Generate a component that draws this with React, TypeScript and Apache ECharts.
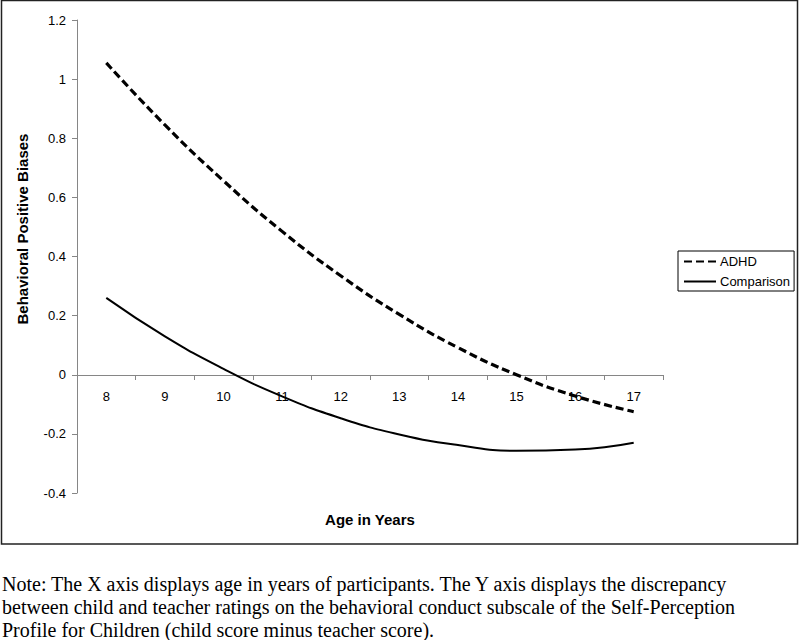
import React, { useEffect, useRef } from "react";
import * as echarts from "echarts";

const ages = ["8", "9", "10", "11", "12", "13", "14", "15", "16", "17"];
const adhd = [1.055, 0.845, 0.656, 0.485, 0.335, 0.204, 0.092, 0.0, -0.072, -0.125];
const comparison = [0.26, 0.13, 0.02, -0.073, -0.147, -0.202, -0.238, -0.257, -0.253, -0.23];
const yTicks = { min: -0.4, max: 1.2, interval: 0.2 };
const xTitle = "Age in Years";
const yTitle = "Behavioral Positive Biases";
const noteLines = [
  "Note: The X axis displays age in years of participants. The Y axis displays the discrepancy",
  "between child and teacher ratings on the behavioral conduct subscale of the Self-Perception",
  "Profile for Children (child score minus teacher score).",
];

export default function App() {
  const ref = useRef<HTMLDivElement>(null);
  useEffect(() => {
    if (!ref.current) return;
    const chart = echarts.init(ref.current, undefined, { renderer: "svg" });
    const font = "Liberation Sans, Arial, sans-serif";
    chart.setOption({
      animation: false,
      backgroundColor: "#ffffff",
      grid: { left: 77, top: 20, right: 137, bottom: 147, outerBoundsMode: "none" },
      legend: {
        orient: "vertical",
        left: 678,
        top: 251,
        width: 114,
        padding: [4, 4, 3, 5],
        itemWidth: 32,
        itemHeight: 14,
        itemGap: 7,
        borderColor: "#000",
        borderWidth: 1,
        backgroundColor: "#fff",
        itemStyle: { opacity: 0 },
        textStyle: { fontFamily: font, fontSize: 13, color: "#000", padding: [0, 0, 0, -1] },
        data: ["ADHD", "Comparison"],
      },
      xAxis: {
        type: "category",
        data: ages,
        boundaryGap: true,
        offset: -118,
        axisLine: { onZero: false, lineStyle: { color: "#868686", width: 1 } },
        axisTick: { show: true, inside: false, length: 5, lineStyle: { color: "#868686" } },
        axisLabel: { margin: 15, fontFamily: font, fontSize: 13, color: "#000" },
        splitLine: { show: false },
      },
      yAxis: {
        type: "value",
        min: yTicks.min,
        max: yTicks.max,
        interval: yTicks.interval,
        axisLine: { show: true, lineStyle: { color: "#868686", width: 1 } },
        axisTick: { show: true, inside: false, length: 5, lineStyle: { color: "#868686" } },
        axisLabel: { margin: 11, fontFamily: font, fontSize: 13, color: "#000" },
        splitLine: { show: false },
      },
      series: [
        {
          name: "ADHD",
          type: "line",
          data: adhd,
          smooth: true,
          symbol: "none",
          lineStyle: { color: "#000", width: 3.2, type: [8, 4] },
          itemStyle: { color: "#000" },
        },
        {
          name: "Comparison",
          type: "line",
          data: comparison,
          smooth: true,
          symbol: "none",
          lineStyle: { color: "#000", width: 2, type: "solid" },
          itemStyle: { color: "#000" },
        },
      ],
      graphic: [
        {
          type: "rect",
          shape: { x: 1.5, y: 0.5, width: 796, height: 543.5 },
          style: { fill: "none", stroke: "#222", lineWidth: 1.5 },
          silent: true,
        },
        {
          type: "text",
          x: 370,
          y: 519,
          style: {
            text: xTitle,
            align: "center",
            verticalAlign: "middle",
            font: "bold 15px Liberation Sans, Arial, sans-serif",
            fill: "#000",
          },
        },
        {
          type: "text",
          x: 22,
          y: 229,
          rotation: Math.PI / 2,
          style: {
            text: yTitle,
            align: "center",
            verticalAlign: "middle",
            font: "bold 15px Liberation Sans, Arial, sans-serif",
            fill: "#000",
          },
        },
        {
          type: "text",
          left: 2,
          top: 572,
          style: {
            text: noteLines.join("\n"),
            font: "20px Liberation Serif, Times New Roman, serif",
            lineHeight: 23,
            fill: "#000",
          },
        },
      ],
    });
    return () => chart.dispose();
  }, []);
  return (
    <div style={{ position: "absolute", left: 0, top: 0, width: 800, height: 640 }}>
      <div ref={ref} style={{ width: 800, height: 640 }} />
    </div>
  );
}
